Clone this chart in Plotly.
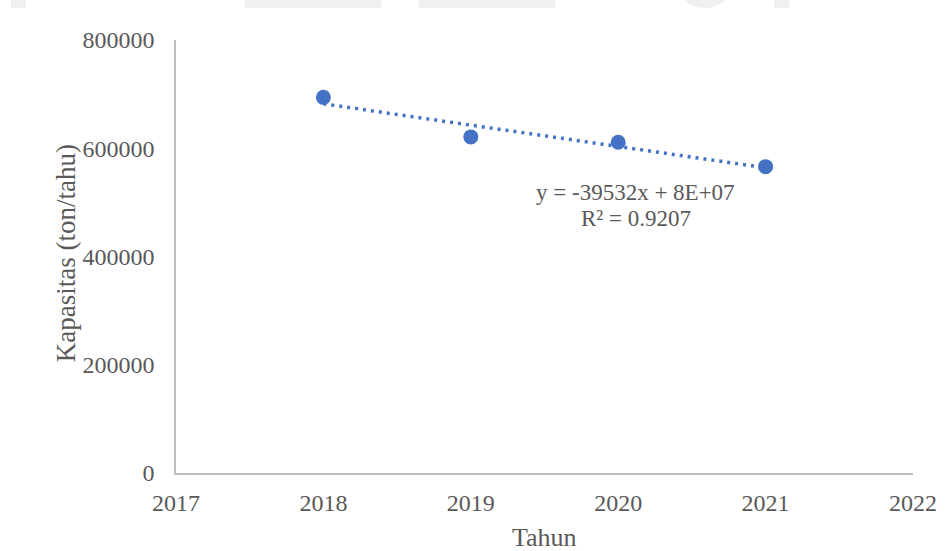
import numpy as np
import plotly.graph_objects as go

# Annual capacity data
tahun = [2018, 2019, 2020, 2021]
kapasitas = [694000, 621000, 611000, 566000]

y_ticks = [0, 200000, 400000, 600000, 800000]
x_ticks = [2017, 2018, 2019, 2020, 2021, 2022]

# Linear trendline fitted to the data
slope, intercept = np.polyfit(tahun, kapasitas, 1)
trend_y = [slope * t + intercept for t in tahun]

blue = "#4472C4"
grey_text = "#595959"
axis_grey = "#BFBFBF"
serif = "Liberation Serif, Times New Roman, serif"

fig = go.Figure()

fig.add_trace(go.Scatter(
    x=tahun, y=trend_y, mode="lines",
    line=dict(color=blue, width=3.5, dash="3px,5px"),
    hoverinfo="skip", showlegend=False,
))
fig.add_trace(go.Scatter(
    x=tahun, y=kapasitas, mode="markers",
    marker=dict(color=blue, size=15),
    showlegend=False,
))

# Equation and R² label (two lines, tight spacing)
for line_text, y_pos in [("y = -39532x + 8E+07", 518500), ("R² = 0.9207", 470400)]:
    fig.add_annotation(
        x=2020.12, y=y_pos, xref="x", yref="y",
        xanchor="center", yanchor="middle",
        text=line_text, showarrow=False,
        font=dict(family=serif, size=23, color=grey_text),
    )

# Axis titles
fig.add_annotation(
    x=2019.5, y=-0.149, xref="x", yref="paper",
    xanchor="center", yanchor="middle",
    text="Tahun", showarrow=False,
    font=dict(family=serif, size=26, color=grey_text),
)
fig.add_annotation(
    x=-0.149, y=0.508, xref="paper", yref="paper",
    xanchor="center", yanchor="middle",
    text="Kapasitas (ton/tahu)", showarrow=False, textangle=-90,
    font=dict(family=serif, size=27, color=grey_text),
)

# Faint header band along the top edge
def px_x(p):
    return (p - 176) / 742.0

def px_y(p):
    return (473 - p) / 433.0

band = "#F0F0F0"
for x0, x1 in [(10, 25), (245, 383), (420, 558), (778, 793)]:
    fig.add_shape(type="rect", xref="paper", yref="paper",
                  x0=px_x(x0), x1=px_x(x1), y0=px_y(8), y1=px_y(0),
                  fillcolor=band, line=dict(width=0), layer="below")
fig.add_shape(type="circle", xref="paper", yref="paper",
              x0=px_x(680), x1=px_x(737), y0=px_y(8), y1=px_y(-45),
              fillcolor=band, line=dict(width=0), layer="below")

fig.update_layout(
    width=949, height=551,
    margin=dict(l=176, r=31, t=40, b=78),
    paper_bgcolor="white", plot_bgcolor="white",
    font=dict(family=serif, color=grey_text),
    xaxis=dict(
        range=[2017, 2022], tickvals=x_ticks, ticktext=[str(v) for v in x_ticks],
        showgrid=False, zeroline=False, showline=True, linecolor=axis_grey, linewidth=1.5,
        ticks="", ticklabelstandoff=7,
        tickfont=dict(family=serif, size=24, color=grey_text),
    ),
    yaxis=dict(
        range=[0, 800000], tickvals=y_ticks, ticktext=[str(v) for v in y_ticks],
        showgrid=False, zeroline=False, showline=True, linecolor=axis_grey, linewidth=1.5,
        ticks="", ticklabelstandoff=15,
        tickfont=dict(family=serif, size=24, color=grey_text),
    ),
)

fig.write_html("out.html")
